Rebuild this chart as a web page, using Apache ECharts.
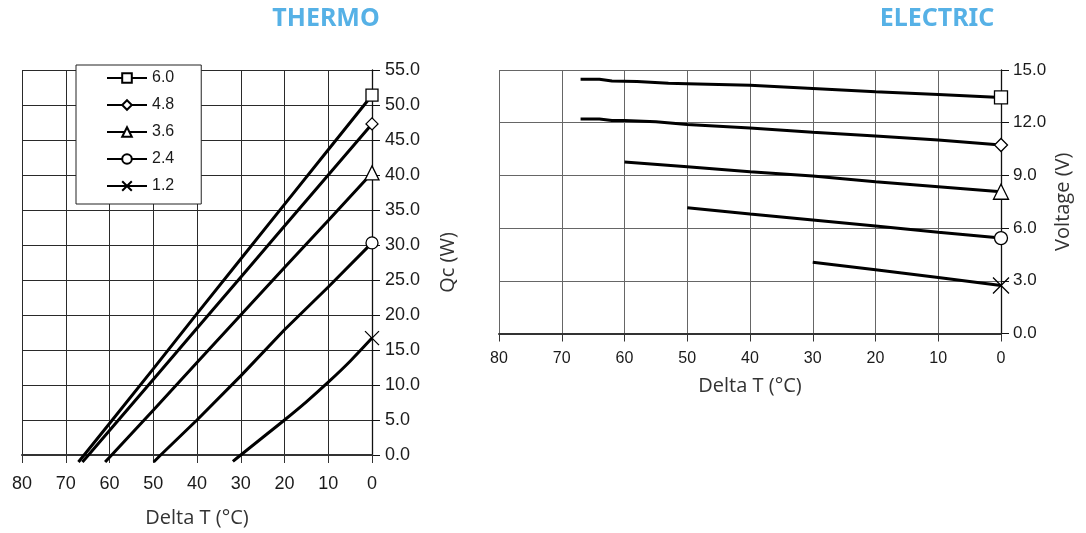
<!DOCTYPE html>
<html>
<head>
<meta charset="utf-8">
<script src="https://cdn.jsdelivr.net/npm/echarts@6/dist/echarts.min.js"></script>
<style>
html,body{margin:0;padding:0;background:#fff;}
#chart{width:1086px;height:533px;}
</style>
</head>
<body>
<div id="chart"></div>
<script>
// ---- data ----
const seriesNames = ['6.0', '4.8', '3.6', '2.4', '1.2'];
const xTicks = [80, 70, 60, 50, 40, 30, 20, 10, 0];

// THERMO: [Delta T (°C), Qc (W)]
const thermo60 = [[67.1, -1.0], [65.8, 0], [60, 4.5], [50, 12.3], [40, 20.2], [30, 28.0], [20, 35.8], [10, 43.6], [0, 51.4]];
const thermo48 = [[66.2, -1.0], [64.8, 0], [60, 3.5], [50, 10.8], [40, 18.1], [30, 25.4], [20, 32.7], [10, 40.0], [0, 47.3]];
const thermo36 = [[61.0, -1.0], [59.5, 0], [50, 6.4], [40, 13.2], [30, 20.0], [20, 26.8], [10, 33.5], [0, 40.3]];
const thermo24 = [[49.9, -1.0], [48.3, 0], [40, 5.0], [30, 11.3], [20, 17.9], [10, 24.0], [0, 30.3]];
const thermo12 = [[31.8, -0.9], [30, 0], [25, 2.5], [20, 5.0], [15, 7.6], [10, 10.4], [5, 13.4], [0, 16.7]];

// ELECTRIC: [Delta T (°C), Voltage (V)]
const elec60 = [[67, 14.47], [64, 14.47], [62, 14.37], [58, 14.35], [53, 14.24], [50, 14.22], [40, 14.13], [30, 13.95], [20, 13.76], [10, 13.61], [0, 13.44]];
const elec48 = [[67, 12.21], [64, 12.21], [62, 12.12], [60, 12.13], [55, 12.05], [50, 11.90], [40, 11.70], [30, 11.45], [20, 11.24], [10, 11.01], [0, 10.73]];
const elec36 = [[60, 9.76], [50, 9.49], [40, 9.21], [30, 8.96], [20, 8.64], [10, 8.36], [0, 8.07]];
const elec24 = [[50, 7.16], [40, 6.80], [30, 6.46], [20, 6.12], [10, 5.76], [0, 5.43]];
const elec12 = [[30, 4.06], [20, 3.63], [10, 3.19], [0, 2.73]];

const thermoData = [thermo60, thermo48, thermo36, thermo24, thermo12];
const elecData = [elec60, elec48, elec36, elec24, elec12];
const symbols = ['rect', 'diamond', 'triangle', 'circle', 'path://M0,0L10,10M10,0L0,10'];

// ---- chart ----
const chart = echarts.init(document.getElementById('chart'), null, {renderer: 'canvas'});
const tickFont = 'Liberation Sans, Arial, sans-serif';
const nameFont = 'Open Sans, Noto Sans, sans-serif';

function mkData(arr) {
  return arr.map(p => p[0] === 0 ? {value: p} : {value: p, symbol: 'none'});
}

const series = [];
seriesNames.forEach((n, i) => {
  series.push({
    name: n, type: 'line', xAxisIndex: 0, yAxisIndex: 0,
    data: mkData(thermoData[i]), clip: false,
    smooth: i === 4 ? 0.3 : false,
    symbol: symbols[i], symbolSize: i === 2 ? 14 : (i === 4 ? 14 : 12),
    lineStyle: {color: '#000', width: 3},
    itemStyle: {color: '#fff', borderColor: '#000', borderWidth: 1.3},
    emphasis: {disabled: true}, animation: false, z: 3
  });
  series.push({
    name: n, type: 'line', xAxisIndex: 1, yAxisIndex: 1,
    data: mkData(elecData[i]), clip: false,
    symbol: symbols[i], symbolSize: i === 2 ? 15 : (i === 4 ? 16 : 13),
    lineStyle: {color: '#000', width: 3},
    itemStyle: {color: '#fff', borderColor: '#000', borderWidth: 1.3},
    emphasis: {disabled: true}, animation: false, z: 3
  });
});

function xAxisCfg(gi, fontSize, margin, nameGap, gridColor) {
  return {
    type: 'value', gridIndex: gi, min: 0, max: 80, interval: 10, inverse: true,
    name: 'Delta T (°C)', nameLocation: 'middle', nameGap: nameGap,
    nameTextStyle: {fontFamily: nameFont, fontSize: 20, color: '#333'},
    axisLine: {show: true, onZero: false, lineStyle: {color: '#333', width: 2}},
    axisTick: {show: true, length: 8, lineStyle: {color: '#333', width: 1}},
    axisLabel: {fontFamily: tickFont, fontSize: fontSize, color: '#1a1a1a', margin: margin},
    splitLine: {show: true, lineStyle: {color: gridColor, width: 1}}
  };
}
function yAxisCfg(gi, max, interval, name, fontSize, margin, nameGap, gridColor) {
  return {
    type: 'value', gridIndex: gi, position: 'right', min: 0, max: max, interval: interval,
    name: name, nameLocation: 'middle', nameGap: nameGap,
    nameTextStyle: {fontFamily: nameFont, fontSize: 20, color: '#333'},
    axisLine: {show: true, lineStyle: {color: '#111', width: 1.3}},
    axisTick: {show: true, length: 8, lineStyle: {color: '#111', width: 1}},
    axisLabel: {fontFamily: tickFont, fontSize: fontSize, color: '#1a1a1a', margin: margin,
      formatter: v => v.toFixed(1)},
    splitLine: {show: true, lineStyle: {color: gridColor, width: 1}}
  };
}

const option = {
  backgroundColor: '#fff',
  animation: false,
  grid: [
    {left: 22, top: 70, width: 350, height: 385},
    {left: 499, top: 70, width: 502, height: 263.5}
  ],
  xAxis: [xAxisCfg(0, 18, 20, 53, '#2a2a2a'), xAxisCfg(1, 16, 17, 43, '#666')],
  yAxis: [yAxisCfg(0, 55, 5, 'Qc (W)', 18, 13, 66, '#2a2a2a'),
          yAxisCfg(1, 15, 3, 'Voltage (V)', 17, 12, 52, '#666')],
  legend: {
    data: seriesNames, orient: 'vertical', left: 76, top: 65,
    padding: [5, 27, 10, 30], itemGap: 11, itemWidth: 40, itemHeight: 12,
    backgroundColor: '#fff', borderColor: '#222', borderWidth: 1,
    textStyle: {fontFamily: tickFont, fontSize: 16, color: '#1a1a1a'},
    selectedMode: false, z: 10
  },
  graphic: [
    {type: 'text', x: 326, y: 19, style: {text: 'THERMO', fill: '#56b1e6',
      font: 'bold 25px "Noto Sans", "Open Sans", sans-serif', textAlign: 'center', textVerticalAlign: 'middle'}},
    {type: 'text', x: 937, y: 19, style: {text: 'ELECTRIC', fill: '#56b1e6',
      font: 'bold 25px "Noto Sans", "Open Sans", sans-serif', textAlign: 'center', textVerticalAlign: 'middle'}}
  ],
  series: series
};
chart.setOption(option);
</script>
</body>
</html>
